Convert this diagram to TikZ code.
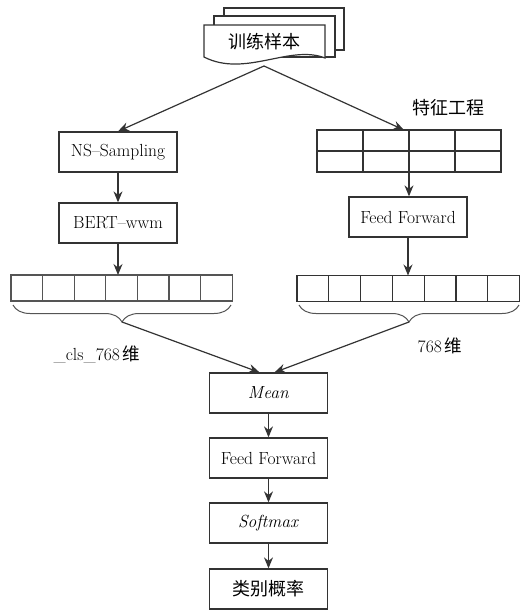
\documentclass[tikz,border=0pt]{standalone}
\usepackage{fontspec}
\newfontfamily\cjk{Noto Sans CJK SC}
\usetikzlibrary{arrows.meta,decorations.pathreplacing,calc}
\definecolor{ink}{HTML}{333333}
\definecolor{soft}{HTML}{555555}
\begin{document}
\begin{tikzpicture}[x=1pt,y=-1pt,
  box/.style={draw=ink, line width=1.3pt, fill=white, minimum width=118pt,
    minimum height=40pt, inner sep=0pt, font=\fontsize{17.5}{19}\selectfont},
  link/.style={draw=ink, line width=1.2pt, -{Stealth[length=11pt,width=9pt]}},
  cell/.style={draw=#1, line width=1.2pt, minimum width=31.7pt,
    minimum height=26pt, inner sep=0pt, outer sep=0pt},
  gcell/.style={draw=ink, line width=1.4pt, minimum width=46pt,
    minimum height=21pt, inner sep=0pt, outer sep=0pt},
  brc/.style={draw=soft, line width=1pt, decorate,
    decoration={brace, mirror, amplitude=17pt}},
  lbl/.style={font=\fontsize{17.5}{19}\selectfont, inner sep=0pt},
  page/.style={draw=ink, line width=1.2pt, fill=white}
]
\useasboundingbox (0,0) rectangle (521,611);

% stacked document (training samples)
\draw[page] (224,8) rectangle (344,50);
\draw[page] (214,16) rectangle (335,57);
\draw[page] (204,25) -- (325,25) -- (325,58)
  .. controls (290,44) and (245,78) .. (204,57) -- cycle;
\node[lbl, font=\fontsize{18}{20}\selectfont] (doc) at (264,42) {\cjk 训练样本};
\coordinate (docb) at (264,66);

% left branch
\node[box] (ns) at (118,152) {NS--Sampling};
\node[box] (bert) at (118,223) {BERT--wwm};
\foreach \i in {0,...,6}
  \node[cell=soft] (l\i) at ({11+31.6*(\i+0.5)},288) {};

% right branch
\node[lbl, font=\fontsize{18}{20}\selectfont] (feat) at (448,108) {\cjk 特征工程};
\foreach \r in {0,1}
  \foreach \c in {0,...,3}
    \node[gcell] (g\r\c) at ({317+46*(\c+0.5)},{140.5+21*\r}) {};
\node[box] (ffr) at (408,217) {Feed Forward};
\foreach \i in {0,...,6}
  \node[cell=ink] (r\i) at ({297+31.8*(\i+0.5)},288.5) {};

% braces under the vectors
\draw[brc] (13,305) -- (231,305);
\draw[brc] (299,305) -- (519,305);
\coordinate (lt) at (122,322);
\coordinate (rt) at (409,322);
\node[lbl] (lcls) at (97,354) {\_cls\_768\,{\cjk 维}};
\node[lbl] (rdim) at (440,346) {768\,{\cjk 维}};

% merged head
\node[box] (mean) at (268.5,393) {\textit{Mean}};
\node[box] (ffc) at (268.5,458) {Feed Forward};
\node[box] (soft) at (268.5,523) {\textit{Softmax}};
\node[box, font=\fontsize{18}{20}\selectfont] (prob) at (268.5,589) {\cjk 类别概率};

% connectors
\draw[link] (docb) -- (ns.north);
\draw[link] (docb) -- ($(g01.north east)+(-5,0)$);
\draw[link] (ns) -- (bert);
\draw[link] (bert.south) -- (bert.south |- l3.north);
\draw[link] (g11.south east) -- (g11.south east |- ffr.north);
\draw[link] (ffr.south) -- (ffr.south |- r3.north);
\draw[link] (lt) -- ($(mean.north)+(-9,0)$);
\draw[link] (rt) -- ($(mean.north)+(6,0)$);
\draw[link] (mean) -- (ffc);
\draw[link] (ffc) -- (soft);
\draw[link] (soft) -- (prob);
\end{tikzpicture}
\end{document}
